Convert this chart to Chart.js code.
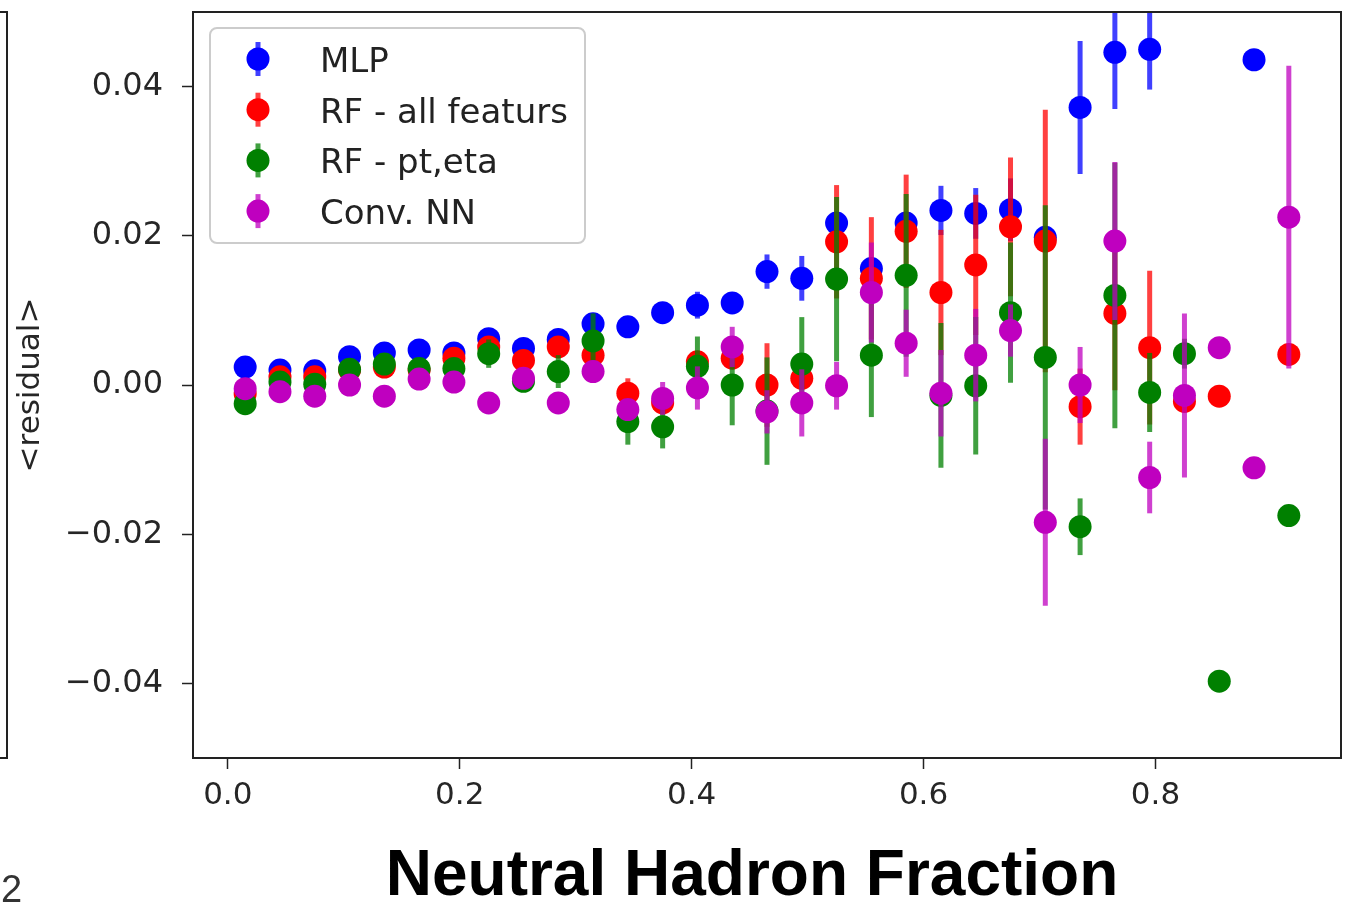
<!DOCTYPE html>
<html lang="en">
<head>
<meta charset="UTF-8">
<title>Residual vs Neutral Hadron Fraction</title>
<script src="https://cdn.jsdelivr.net/npm/chart.js"></script>
<style>
  html, body { margin: 0; padding: 0; background: #fff; }
  #wrap { position: relative; width: 1345px; height: 905px; }
</style>
</head>
<body>
<div id="wrap"><canvas id="residualChart" width="1345" height="905"></canvas></div>
<script>
// bin centres (neutral hadron fraction)
const bins = [0.015, 0.045, 0.075, 0.105, 0.135, 0.165, 0.195, 0.225, 0.255, 0.285, 0.315,
              0.345, 0.375, 0.405, 0.435, 0.465, 0.495, 0.525, 0.555, 0.585, 0.615,
              0.645, 0.675, 0.705, 0.735, 0.765, 0.795, 0.825, 0.855, 0.885, 0.915];

// mean residual per bin and its uncertainty, one pair per model (null = empty bin)
const mlpMean = [0.0024, 0.0020, 0.0019, 0.0038, 0.0043, 0.0047, 0.0043, 0.0062, 0.0049, 0.0061, 0.0082,
                 0.0078, 0.0097, 0.0107, 0.0110, 0.0152, 0.0143, 0.0217, 0.0156, 0.0217, 0.0234,
                 0.0230, 0.0235, 0.0198, 0.0372, 0.0446, 0.0450, null, null, 0.0436, null];
const mlpErr = [0.0004, 0.0004, 0.0004, 0.0005, 0.0005, 0.0005, 0.0005, 0.0006, 0.0006, 0.0006, 0.0008,
                0.0008, 0.0010, 0.0018, 0.0012, 0.0023, 0.0030, 0.0015, 0.0015, 0.0015, 0.0033,
                0.0034, 0.0042, 0.0015, 0.0089, 0.0076, 0.0054, null, null, 0.0005, null];

const rfAllMean = [-0.0012, 0.0011, 0.0011, 0.0020, 0.0024, 0.0020, 0.0036, 0.0051, 0.0033, 0.0051, 0.0040,
                   -0.0011, -0.0024, 0.0031, 0.0036, 0.0000, 0.0009, 0.0192, 0.0143, 0.0206, 0.0124,
                   0.0161, 0.0212, 0.0193, -0.0029, 0.0096, 0.0050, -0.0022, -0.0015, null, 0.0041];
const rfAllErr = [0.0005, 0.0005, 0.0005, 0.0005, 0.0005, 0.0005, 0.0006, 0.0006, 0.0007, 0.0007, 0.0008,
                  0.0020, 0.0012, 0.0010, 0.0012, 0.0056, 0.0010, 0.0076, 0.0082, 0.0076, 0.0084,
                  0.0094, 0.0093, 0.0176, 0.0051, 0.0103, 0.0103, 0.0010, 0.0003, null, 0.0003];

const rfPtMean = [-0.0025, 0.0004, 0.0001, 0.0021, 0.0028, 0.0022, 0.0022, 0.0042, 0.0005, 0.0018, 0.0059,
                  -0.0049, -0.0056, 0.0025, 0.0000, -0.0035, 0.0028, 0.0142, 0.0040, 0.0147, -0.0014,
                  -0.0001, 0.0097, 0.0037, -0.0190, 0.0120, -0.0010, 0.0042, -0.0397, null, -0.0175];
const rfPtErr = [0.0005, 0.0005, 0.0005, 0.0006, 0.0006, 0.0006, 0.0006, 0.0019, 0.0007, 0.0022, 0.0037,
                 0.0031, 0.0029, 0.0040, 0.0054, 0.0072, 0.0063, 0.0110, 0.0083, 0.0109, 0.0097,
                 0.0092, 0.0094, 0.0204, 0.0038, 0.0178, 0.0053, 0.0020, 0.0003, null, 0.0003];

const convMean = [-0.0005, -0.0009, -0.0015, 0.0000, -0.0015, 0.0008, 0.0004, -0.0024, 0.0009, -0.0024, 0.0018,
                  -0.0033, -0.0018, -0.0004, 0.0051, -0.0036, -0.0024, -0.0001, 0.0124, 0.0056, -0.0011,
                  0.0040, 0.0073, -0.0184, 0.0000, 0.0193, -0.0124, -0.0014, 0.0050, -0.0111, 0.0225];
const convErr = [0.0004, 0.0004, 0.0004, 0.0004, 0.0004, 0.0005, 0.0005, 0.0005, 0.0006, 0.0006, 0.0015,
                 0.0010, 0.0022, 0.0029, 0.0027, 0.0029, 0.0045, 0.0032, 0.0067, 0.0045, 0.0058,
                 0.0062, 0.0035, 0.0112, 0.0051, 0.0106, 0.0048, 0.0110, 0.0003, 0.0003, 0.0203];

const seriesNames = ['MLP', 'RF - all featurs', 'RF - pt,eta', 'Conv. NN'];

const xTicks = [0, 0.2, 0.4, 0.6, 0.8];
const xTickLabels = ['0.0', '0.2', '0.4', '0.6', '0.8'];
const yTicks = [-0.04, -0.02, 0, 0.02, 0.04];
const yTickLabels = ['\u22120.04', '\u22120.02', '0.00', '0.02', '0.04'];

const xTitle = 'Neutral Hadron Fraction';
const yTitle = '<residual>';

Chart.defaults.font.family = '"DejaVu Sans", sans-serif';

function points(mean, err) {
  const out = [];
  bins.forEach((x, i) => {
    if (mean[i] !== null) out.push({ x: x, y: mean[i], err: err[i] });
  });
  return out;
}

const rgb = [[0, 0, 255], [255, 0, 0], [0, 128, 0], [191, 0, 191]];
const means = [mlpMean, rfAllMean, rfPtMean, convMean];
const errs = [mlpErr, rfAllErr, rfPtErr, convErr];

const datasets = seriesNames.map((name, k) => ({
  label: name,
  data: points(means[k], errs[k]),
  backgroundColor: 'rgb(' + rgb[k].join(',') + ')',
  borderWidth: 0,
  pointRadius: 11.5,
  pointHoverRadius: 11.5,
  errColor: 'rgba(' + rgb[k].join(',') + ',0.75)',
  order: 4 - k   // later series end up on top
}));

// vertical error bars, drawn just before each series' markers
const errorBars = {
  id: 'errorBars',
  beforeDatasetDraw(chart, args) {
    const ds = chart.data.datasets[args.index];
    const y = chart.scales.y;
    const a = chart.chartArea;
    const ctx = chart.ctx;
    ctx.save();
    ctx.beginPath();
    ctx.rect(a.left, a.top, a.right - a.left, a.bottom - a.top);
    ctx.clip();
    ctx.strokeStyle = ds.errColor;
    ctx.lineWidth = 5;
    args.meta.data.forEach((pt, j) => {
      const d = ds.data[j];
      if (!d.err) return;
      ctx.beginPath();
      ctx.moveTo(pt.x, y.getPixelForValue(d.y - d.err));
      ctx.lineTo(pt.x, y.getPixelForValue(d.y + d.err));
      ctx.stroke();
    });
    ctx.restore();
  }
};

function roundRect(ctx, x, y, w, h, r) {
  ctx.beginPath();
  ctx.moveTo(x + r, y);
  ctx.arcTo(x + w, y, x + w, y + h, r);
  ctx.arcTo(x + w, y + h, x, y + h, r);
  ctx.arcTo(x, y + h, x, y, r);
  ctx.arcTo(x, y, x + w, y, r);
  ctx.closePath();
}

// axes frame, legend box, x title and the neighbouring panel edge
const decorations = {
  id: 'decorations',
  afterDraw(chart) {
    const ctx = chart.ctx;
    const a = chart.chartArea;
    ctx.save();

    ctx.strokeStyle = '#222';
    ctx.lineWidth = 2;
    ctx.strokeRect(a.left, a.top, a.right - a.left, a.bottom - a.top);

    // edge of the panel to the left
    ctx.beginPath();
    ctx.moveTo(0, a.top);
    ctx.lineTo(7, a.top);
    ctx.lineTo(7, a.bottom);
    ctx.lineTo(0, a.bottom);
    ctx.stroke();

    // legend
    const bx = a.left + 17, by = a.top + 16, bw = 375, bh = 215;
    roundRect(ctx, bx, by, bw, bh, 7);
    ctx.fillStyle = 'rgba(255,255,255,0.8)';
    ctx.fill();
    ctx.strokeStyle = '#cccccc';
    ctx.lineWidth = 2;
    ctx.stroke();
    ctx.font = '34px "DejaVu Sans"';
    ctx.textAlign = 'left';
    ctx.textBaseline = 'alphabetic';
    chart.data.datasets.forEach((ds, k) => {
      const base = by + 44 + k * 50.7;
      const my = base - 13;
      const mx = bx + 48;
      ctx.strokeStyle = ds.errColor;
      ctx.lineWidth = 5;
      ctx.beginPath();
      ctx.moveTo(mx, my - 17);
      ctx.lineTo(mx, my + 17);
      ctx.stroke();
      ctx.fillStyle = ds.backgroundColor;
      ctx.beginPath();
      ctx.arc(mx, my, 11.5, 0, Math.PI * 2);
      ctx.fill();
      ctx.fillStyle = '#222';
      ctx.fillText(ds.label, bx + 110, base);
    });

    // x axis title
    ctx.fillStyle = '#000';
    ctx.font = 'bold 64px "Liberation Sans"';
    ctx.textAlign = 'center';
    ctx.fillText(xTitle, 752, 895);

    ctx.font = '38px "Liberation Sans"';
    ctx.textAlign = 'left';
    ctx.fillStyle = '#333';
    ctx.fillText('2', 1, 902);

    ctx.restore();
  }
};

new Chart(document.getElementById('residualChart'), {
  type: 'scatter',
  data: { datasets: datasets },
  plugins: [errorBars, decorations],
  options: {
    responsive: false,
    devicePixelRatio: 1,
    animation: false,
    events: [],
    layout: { autoPadding: false, padding: { top: 12, right: 4, left: 0, bottom: 0 } },
    plugins: {
      legend: { display: false },
      tooltip: { enabled: false }
    },
    scales: {
      x: {
        type: 'linear',
        min: -0.03,
        max: 0.96,
        afterBuildTicks: s => { s.ticks = xTicks.map(v => ({ value: v })); },
        afterFit: s => { s.height = 147; s.paddingLeft = 0; s.paddingRight = 0; },
        border: { display: false },
        grid: { drawOnChartArea: false, tickLength: 11, tickColor: '#222', tickWidth: 1.5 },
        ticks: {
          font: { size: 31 },
          color: '#262626',
          padding: 8,
          maxRotation: 0,
          callback: (v, i) => xTickLabels[i]
        }
      },
      y: {
        type: 'linear',
        min: -0.05,
        max: 0.05,
        afterBuildTicks: s => { s.ticks = yTicks.map(v => ({ value: v })); },
        afterFit: s => { s.width = 193; s.paddingTop = 0; s.paddingBottom = 0; },
        border: { display: false },
        grid: { drawOnChartArea: false, tickLength: 11, tickColor: '#222', tickWidth: 1.5 },
        ticks: {
          font: { size: 32 },
          color: '#262626',
          padding: 19,
          callback: (v, i) => yTickLabels[i]
        },
        title: {
          display: true,
          text: yTitle,
          font: { size: 31 },
          color: '#262626',
          padding: { top: 12, bottom: 0 }
        }
      }
    }
  }
});
</script>
</body>
</html>
